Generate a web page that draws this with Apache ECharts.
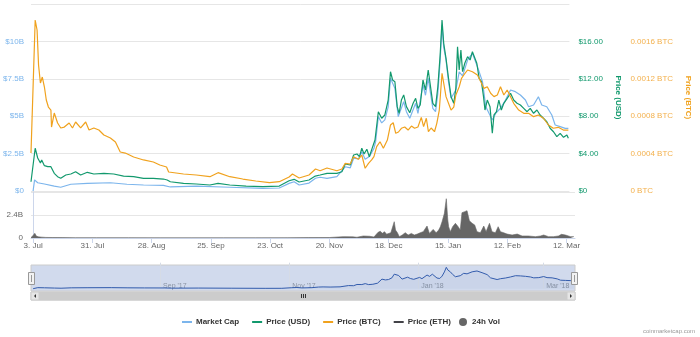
<!DOCTYPE html>
<html>
<head>
<meta charset="utf-8">
<script src="https://cdn.jsdelivr.net/npm/echarts@6/dist/echarts.min.js"></script>
<style>
  html, body { margin: 0; padding: 0; background: #ffffff; }
  #chart { width: 700px; height: 337px; }
</style>
</head>
<body>
<div id="chart"></div>
<script>
// Time is kept as days (with intraday fractions) after this date.
const startDate = '2017-07-03';

// Dates that carry a label on the main time axis and on the navigator.
const tickDates = ['2017-07-03', '2017-07-31', '2017-08-28', '2017-09-25', '2017-10-23',
  '2017-11-20', '2017-12-18', '2018-01-15', '2018-02-12', '2018-03-12'];
const navTickDates = ['2017-09-01', '2017-11-01', '2018-01-01', '2018-03-01'];
const monthNames = ['Jan', 'Feb', 'Mar', 'Apr', 'May', 'Jun', 'Jul', 'Aug', 'Sep', 'Oct', 'Nov', 'Dec'];

// Market capitalisation, billions of USD
const mcapDay = [0, 0.7, 2.2, 5.4, 10.1, 13.2, 18, 25.9, 36.9, 44.8, 52.7, 62.2, 65.5, 78, 93.9,
  109.6, 117.5, 122.2, 124.6, 127, 131.7, 134.8, 137, 140.3, 145, 149, 151.4, 153, 155.3, 156.9,
  158.5, 160.5, 162.7, 163.5, 164.8, 166.4, 167.9, 169.5, 170.6, 172.7, 174.3, 176.9, 178.2, 179.8,
  182.6, 183.7, 186.1, 187.3, 188.6, 190.8, 192.1, 193.2, 194.3, 195.2, 196, 197.1, 198.2, 199.5,
  201.8, 203.4, 205, 207.4, 209.7, 212.1, 214.5, 216.1, 219.2, 220.8, 223.1, 225.5, 227.9, 230.2,
  232.6, 235, 236.5, 238.9, 241.2, 242.8, 245.2, 247.6, 249.2, 251.6, 254, 255.5];
const mcapBn = [0, 0.74, 0.55, 0.47, 0.33, 0.25, 0.45, 0.51, 0.55, 0.45, 0.40, 0.38, 0.27, 0.33, 0.25,
  0.18, 0.20, 0.51, 0.62, 0.40, 0.53, 0.85, 0.92, 0.85, 0.96, 1.62, 1.55, 2.19, 2.15, 2.63,
  2.12, 2.30, 2.85, 3.30, 4.97, 4.55, 4.75, 5.63, 7.53, 6.86, 4.97, 5.97, 5.30, 4.86,
  5.86, 5.19, 7.09, 6.40, 7.53, 5.53, 5.30, 6.53, 8.70, 11.10, 9.60, 8.76, 7.40, 6.20,
  6.75, 7.97, 7.70, 8.76, 9.20, 8.31, 7.31, 5.63, 4.75, 5.19, 5.53, 6.08, 6.75, 6.64,
  6.42, 6.08, 5.63, 5.75, 6.30, 5.75, 5.63, 5.08, 4.41, 4.30, 4.19, 4.19];

// Price in USD
const usdDay = [-1, 1, 2.2, 3.5, 4.1, 5.4, 7, 8.5, 10.1, 11.7, 13.2, 15.6, 18, 20.3, 22.7, 25.9, 29,
  33.8, 38.5, 43.2, 48, 52.7, 57.4, 62.2, 64, 65.5, 71.8, 77.9, 84.4, 88.3, 93.9, 101.7, 109.6,
  117.5, 122.2, 124.6, 127, 131.7, 134.7, 137, 140.3, 145, 147.4, 149, 151.4, 153, 154.6, 155.8,
  156.9, 158, 159.3, 160.5, 162.1, 163.2, 164.8, 166.4, 167.9, 169.5, 170.6, 171.6, 172.7, 173.8,
  174.7, 175.8, 176.9, 178.2, 179.8, 181.4, 182.6, 183.7, 184.8, 186.1, 187.3, 188.6, 189.6, 190.8,
  192.1, 193.2, 194.3, 195.2, 196, 197.1, 198.2, 199.5, 200.8, 201.8, 202.6, 203.4, 204.2, 205,
  206.1, 207.4, 208.6, 209.7, 210.5, 211.8, 212.9, 214, 215, 215.7, 216.8, 218.1, 219.2, 220,
  221.2, 222.3, 223.5, 224.7, 226.3, 227.9, 229.4, 231, 232.6, 234.2, 235.8, 237.3, 238.9, 240.5,
  242, 243.6, 245.2, 246.8, 248.4, 250, 251.6, 253.2, 254.8, 255.5];
const usdPrice = [0.99, 4.57, 3.53, 2.99, 3.32, 2.71, 2.60, 2.60, 1.89, 1.53, 1.36, 1.71, 1.82, 2.06, 1.71, 2.00, 1.82,
  1.89, 1.82, 1.60, 1.53, 1.36, 1.36, 1.28, 1.18, 0.99, 0.82, 0.75, 0.64, 0.82, 0.64, 0.53, 0.46,
  0.53, 1.10, 1.25, 0.96, 1.18, 1.60, 1.71, 1.89, 1.89, 2.06, 2.89, 2.78, 3.85, 3.96, 3.67,
  4.57, 3.96, 4.46, 3.67, 4.74, 5.45, 8.48, 7.78, 8.13, 9.73, 12.76, 11.87, 11.69, 9.02,
  8.31, 9.73, 10.27, 9.02, 8.37, 9.38, 9.91, 8.84, 9.20, 11.87, 10.80, 12.94, 11.34, 9.38,
  9.02, 11.15, 14.55, 18.29, 15.80, 14.19, 12.22, 10.09, 9.38, 10.98, 15.43, 12.94, 15.08, 12.76,
  13.69, 14.36, 14.01, 14.90, 14.73, 13.66, 12.05, 11.69, 10.09, 8.66, 9.73, 9.02, 6.17, 8.13,
  8.48, 9.73, 8.66, 9.38, 9.91, 10.45, 9.73, 9.38, 9.20, 8.84, 8.48, 8.84, 8.31, 8.66,
  8.13, 7.78, 7.41, 6.71, 6.34, 5.81, 6.17, 5.74, 5.99, 5.64];

// Price in BTC
const btcDay = [-1, 1, 1.9, 2.6, 3.5, 4.4, 5.4, 6.3, 7.3, 8.5, 8.8, 10.1, 11.7, 13.2, 14.9, 17.2, 18.8,
  20.3, 22.7, 25.1, 26.7, 29, 31.4, 33.8, 36.9, 39.3, 41.6, 44, 48, 52.7, 57.4, 60.5, 63.7, 64.7,
  71.8, 77.9, 84.4, 88.3, 93.9, 100.1, 106.3, 112.8, 117.5, 122.2, 123.8, 127, 131.7, 134.8, 137,
  140.3, 145, 147.4, 149, 151.4, 153, 155.3, 156.9, 158.5, 160.1, 161.6, 162.7, 164, 165.6, 167.2,
  169.1, 170.6, 171.9, 173.1, 174.4, 175.8, 177.4, 179, 180.6, 182.1, 183.7, 185.3, 186.4, 187.7,
  188.7, 190, 191.6, 192.7, 193.9, 195.2, 196.3, 197.1, 199.5, 200.8, 201.8, 203.4, 204.5, 205.6,
  207.4, 209.7, 212.1, 213.7, 215.2, 216.8, 218.4, 220, 221.6, 223.1, 224.7, 226.3, 227.9, 229.4,
  231.8, 234.2, 236.5, 238.9, 241.2, 243.6, 246, 248.3, 250.7, 253.1, 255.5];
const btcPrice = [0.000406, 0.001829, 0.001722, 0.001348, 0.001155, 0.001219, 0.001112, 0.000973, 0.000898,
  0.000866, 0.000684, 0.000834, 0.000727, 0.000674, 0.000684, 0.000727, 0.000674,
  0.000738, 0.000674, 0.000738, 0.000652, 0.000674, 0.000652, 0.000599, 0.000567, 0.000524,
  0.000417, 0.000406, 0.000364, 0.000332, 0.000310, 0.000278, 0.000257, 0.000203,
  0.000182, 0.000171, 0.000153, 0.000196, 0.000153, 0.000128, 0.000107, 0.0000888, 0.0000995,
  0.000150, 0.000182, 0.000139, 0.000171, 0.000235, 0.000217,
  0.000246, 0.000217, 0.000235, 0.000296, 0.000289, 0.000367, 0.000339, 0.000385, 0.000243,
  0.000296, 0.000332, 0.000367, 0.000474, 0.000527, 0.000457,
  0.000545, 0.000706, 0.000730, 0.000617, 0.000631, 0.000671, 0.000684, 0.000652, 0.000695,
  0.000671, 0.000684, 0.000788, 0.000688, 0.000778,
  0.000634, 0.000674, 0.000634, 0.000724, 0.000866, 0.001259, 0.001115, 0.001009, 0.000866,
  0.000898, 0.001027, 0.001115, 0.001205, 0.001241,
  0.001294, 0.001276, 0.001241, 0.001169, 0.001098, 0.001115, 0.001045, 0.001009, 0.001027,
  0.001115, 0.001027, 0.001080, 0.001009, 0.000938,
  0.000866, 0.000831, 0.000831, 0.000795, 0.000813, 0.000778, 0.000706, 0.000671, 0.000681,
  0.000652, 0.000652];

// 24h trading volume, billions of USD
const volDay = [-1, 0, 0.8, 1.5, 2.5, 4, 6, 9, 14, 20, 30, 45, 60, 75, 90, 105, 120, 130, 140,
  146.5, 151, 153, 156, 159, 161, 163, 164, 165, 166, 167, 169, 170.6, 171.2, 172.1, 173, 174.4,
  175.8, 177.2, 178.7, 180.1, 181.5, 182.9, 184.3, 186.1, 187.2, 188.1, 189, 190.4, 191.6, 192.4,
  193.2, 194.3, 195.2, 195.9, 196.3, 197.1, 198.2, 199.5, 200.8, 201.8, 202.6, 203.9, 205, 206.1,
  207.4, 208.6, 209.7, 211.3, 212.9, 214, 215.6, 216.8, 218.4, 219.7, 220.8, 222.3, 223.9, 226.3,
  228.7, 231, 234, 237.3, 239.7, 241.2, 243.5, 245.8, 248.2, 249.6, 251.5, 253.9, 255.5];
const volBn = [0.05, 0.25, 0.49, 0.20, 0.12, 0.09, 0.06, 0.05, 0.04, 0.03, 0.03, 0.03, 0.02, 0.02, 0.02, 0.02, 0.03, 0.04, 0.05,
  0.14, 0.12, 0.08, 0.21, 0.18, 0.10, 0.60, 0.70, 0.50, 0.66, 0.40, 0.55, 1.70, 0.83, 0.55, 0.14, 0.31,
  0.55, 0.31, 0.48, 0.31, 0.41, 0.55, 0.66, 1.25, 0.48, 0.66, 0.90, 0.55, 0.83, 1.18,
  1.70, 2.58, 4.10, 1.88, 1.18, 0.66, 1.18, 1.53, 1.18, 0.83, 2.64, 2.75, 2.85, 1.80,
  1.53, 1.36, 0.66, 0.55, 1.25, 0.66, 1.53, 0.66, 0.55, 1.18, 0.66, 0.55, 0.41, 0.31,
  0.41, 0.21, 0.21, 0.14, 0.21, 0.31, 0.14, 0.14, 0.21, 0.38, 0.31, 0.14, 0.14];

const DAY_MS = 864e5;
const originMs = Date.parse(startDate + 'T00:00:00Z');
const dayOf = iso => (Date.parse(iso + 'T00:00:00Z') - originMs) / DAY_MS;
const dateOf = d => new Date(originMs + Math.round(d) * DAY_MS);
const zip = (xs, ys, k) => xs.map((x, i) => [x, ys[i] * (k || 1)]);

const tickDays = tickDates.map(dayOf);
const navTickDays = navTickDates.map(dayOf);

const C = {
  mcap: '#7cb5ec',
  usd: '#12996d',
  btc: '#f0a21e',
  eth: '#434348',
  vol: '#666666',
  grid: '#e6e6e6',
  axis: '#ccd6eb',
  text: '#666666'
};
const FONT = 'Liberation Sans';
const X_MIN = -1, X_MAX = 256;

const mainGrid = { left: 31, right: 125, top: 4, height: 187 };
const volGrid = { left: 31, right: 125, top: 192, height: 46 };
const navGrid = { left: 31, right: 125, top: 265, height: 26 };

const hiddenX = (gridIndex) => ({
  type: 'value', gridIndex, min: X_MIN, max: X_MAX,
  axisLine: { show: false }, axisTick: { show: false }, axisLabel: { show: false }, splitLine: { show: false }
});

const yLabel = (color, extra) => Object.assign({
  color, fontFamily: FONT, fontSize: 8, padding: [0, 0, 7, 0], showMaxLabel: false
}, extra || {});

const chart = echarts.init(document.getElementById('chart'), null, { renderer: 'canvas' });

chart.setOption({
  animation: false,
  backgroundColor: '#ffffff',
  textStyle: { fontFamily: FONT },
  grid: [
    Object.assign({}, mainGrid),
    Object.assign({}, volGrid),
    Object.assign({ show: true, backgroundColor: 'rgba(102,133,194,0.3)', borderColor: '#cccccc', borderWidth: 1 }, navGrid)
  ],
  xAxis: [
    hiddenX(0),
    {
      type: 'value', gridIndex: 1, min: X_MIN, max: X_MAX,
      axisLine: { show: true, lineStyle: { color: C.axis, width: 1 } },
      axisTick: { show: true, customValues: tickDays, length: 5, lineStyle: { color: C.axis } },
      axisLabel: {
        customValues: tickDays, color: C.text, fontFamily: FONT, fontSize: 8, margin: 4,
        formatter: v => { const d = dateOf(v); return d.getUTCDate() + '. ' + monthNames[d.getUTCMonth()]; }
      },
      splitLine: { show: false }
    },
    {
      type: 'value', gridIndex: 2, min: X_MIN, max: X_MAX,
      axisLine: { show: false },
      axisTick: { show: true, customValues: navTickDays, inside: true, length: 26, lineStyle: { color: '#d5dbe6' } },
      axisLabel: {
        customValues: navTickDays, inside: true, color: '#8a93a3', fontFamily: FONT, fontSize: 7,
        align: 'left', verticalAlign: 'bottom', margin: 1, padding: [0, 0, 0, 3],
        formatter: v => { const d = dateOf(v); return monthNames[d.getUTCMonth()] + " '" + String(d.getUTCFullYear()).slice(2); }
      },
      splitLine: { show: false }
    }
  ],
  yAxis: [
    {
      type: 'value', gridIndex: 0, position: 'left', min: 0, max: 12.5e9, interval: 2.5e9,
      axisLine: { show: false }, axisTick: { show: false },
      axisLabel: yLabel(C.mcap, { margin: 7, formatter: v => v === 0 ? '$0' : '$' + (v / 1e9) + 'B' }),
      splitLine: { show: true, lineStyle: { color: C.grid, width: 1 } }
    },
    {
      type: 'value', gridIndex: 0, position: 'right', min: 0, max: 20, interval: 4,
      name: 'Price (USD)', nameLocation: 'middle', nameRotate: -90, nameGap: 43,
      nameTextStyle: { color: C.usd, fontFamily: FONT, fontSize: 8, fontWeight: 'bold' },
      axisLine: { show: false }, axisTick: { show: false },
      axisLabel: yLabel(C.usd, { margin: 9, formatter: v => v === 0 ? '$0' : '$' + v.toFixed(2) }),
      splitLine: { show: false }
    },
    {
      type: 'value', gridIndex: 0, position: 'right', offset: 52, min: 0, max: 0.002, interval: 0.0004,
      name: 'Price (BTC)', nameLocation: 'middle', nameRotate: -90, nameGap: 61,
      nameTextStyle: { color: C.btc, fontFamily: FONT, fontSize: 8, fontWeight: 'bold' },
      axisLine: { show: false }, axisTick: { show: false },
      axisLabel: yLabel('#f3b04c', { margin: 9, formatter: v => v === 0 ? '0 BTC' : v.toFixed(4) + ' BTC' }),
      splitLine: { show: false }
    },
    {
      type: 'value', gridIndex: 1, position: 'left', min: 0, max: 4.8e9, interval: 2.4e9,
      axisLine: { show: true, lineStyle: { color: C.axis } }, axisTick: { show: false },
      axisLabel: yLabel(C.text, { margin: 8, formatter: v => v === 0 ? '0' : (v / 1e9) + 'B' }),
      splitLine: { show: true, lineStyle: { color: C.grid, width: 1 } }
    },
    {
      type: 'value', gridIndex: 2, min: -1.2e9, max: 12.3e9,
      axisLine: { show: false }, axisTick: { show: false }, axisLabel: { show: false }, splitLine: { show: false }
    }
  ],
  legend: [
    {
      left: 177, top: 313, icon: 'rect', itemWidth: 10, itemHeight: 2, itemGap: 13,
      textStyle: { color: '#333333', fontFamily: FONT, fontSize: 8, fontWeight: 'bold', padding: [0, 0, 0, -1] },
      data: ['Market Cap', 'Price (USD)', 'Price (BTC)', 'Price (ETH)'],
      selectedMode: false
    },
    {
      left: 454, top: 313, icon: 'circle', itemWidth: 8, itemHeight: 8,
      textStyle: { color: '#333333', fontFamily: FONT, fontSize: 8, fontWeight: 'bold' },
      data: ['24h Vol'],
      selectedMode: false
    }
  ],
  series: [
    {
      name: 'Market Cap', type: 'line', xAxisIndex: 0, yAxisIndex: 0, showSymbol: false,
      data: zip(mcapDay, mcapBn, 1e9), color: C.mcap, lineStyle: { width: 1.2 }, z: 2
    },
    {
      name: 'Price (USD)', type: 'line', xAxisIndex: 0, yAxisIndex: 1, showSymbol: false,
      data: zip(usdDay, usdPrice), color: C.usd, lineStyle: { width: 1.2 }, z: 3
    },
    {
      name: 'Price (BTC)', type: 'line', xAxisIndex: 0, yAxisIndex: 2, showSymbol: false,
      data: zip(btcDay, btcPrice), color: C.btc, lineStyle: { width: 1.2 }, z: 4
    },
    {
      name: 'Price (ETH)', type: 'line', xAxisIndex: 0, yAxisIndex: 1, showSymbol: false,
      data: [], color: C.eth, lineStyle: { width: 1.2 }
    },
    {
      name: '24h Vol', type: 'line', xAxisIndex: 1, yAxisIndex: 3, showSymbol: false,
      data: zip(volDay, volBn, 1e9), color: C.vol, lineStyle: { width: 0.6 },
      areaStyle: { color: C.vol, opacity: 1 }
    },
    {
      name: 'navigator', type: 'line', xAxisIndex: 2, yAxisIndex: 4, showSymbol: false, silent: true,
      data: zip(mcapDay, mcapBn, 1e9), color: '#335cad', lineStyle: { width: 1 },
      areaStyle: { color: 'rgba(51,92,173,0.06)' }
    }
  ],
  graphic: [
    // scrollbar track, bar and buttons under the navigator
    { type: 'rect', shape: { x: 31, y: 292, width: 544, height: 8 }, style: { fill: '#f2f2f2', stroke: '#cccccc', lineWidth: 1 } },
    { type: 'rect', shape: { x: 39, y: 292, width: 528, height: 8 }, style: { fill: '#cccccc', stroke: '#cccccc', lineWidth: 1 } },
    { type: 'rect', shape: { x: 31, y: 292, width: 8, height: 8 }, style: { fill: '#e6e6e6', stroke: '#cccccc', lineWidth: 1 } },
    { type: 'rect', shape: { x: 567, y: 292, width: 8, height: 8 }, style: { fill: '#e6e6e6', stroke: '#cccccc', lineWidth: 1 } },
    { type: 'polygon', shape: { points: [[36, 294], [36, 298], [34, 296]] }, style: { fill: '#333333' } },
    { type: 'polygon', shape: { points: [[570, 294], [570, 298], [572, 296]] }, style: { fill: '#333333' } },
    { type: 'line', shape: { x1: 301.5, y1: 294, x2: 301.5, y2: 298 }, style: { stroke: '#333333', lineWidth: 1 } },
    { type: 'line', shape: { x1: 303.5, y1: 294, x2: 303.5, y2: 298 }, style: { stroke: '#333333', lineWidth: 1 } },
    { type: 'line', shape: { x1: 305.5, y1: 294, x2: 305.5, y2: 298 }, style: { stroke: '#333333', lineWidth: 1 } },
    // navigator range handles
    { type: 'rect', shape: { x: 28.5, y: 272.5, width: 6, height: 12 }, style: { fill: '#f2f2f2', stroke: '#999999', lineWidth: 1 }, z: 10 },
    { type: 'rect', shape: { x: 571.5, y: 272.5, width: 6, height: 12 }, style: { fill: '#f2f2f2', stroke: '#999999', lineWidth: 1 }, z: 10 },
    { type: 'line', shape: { x1: 31.5, y1: 275, x2: 31.5, y2: 282 }, style: { stroke: '#999999', lineWidth: 1 }, z: 11 },
    { type: 'line', shape: { x1: 574.5, y1: 275, x2: 574.5, y2: 282 }, style: { stroke: '#999999', lineWidth: 1 }, z: 11 },
    // credit
    { type: 'text', right: 5, top: 328, style: { text: 'coinmarketcap.com', fill: '#999999', font: '6px "Liberation Sans"' } }
  ]
});
</script>
</body>
</html>
